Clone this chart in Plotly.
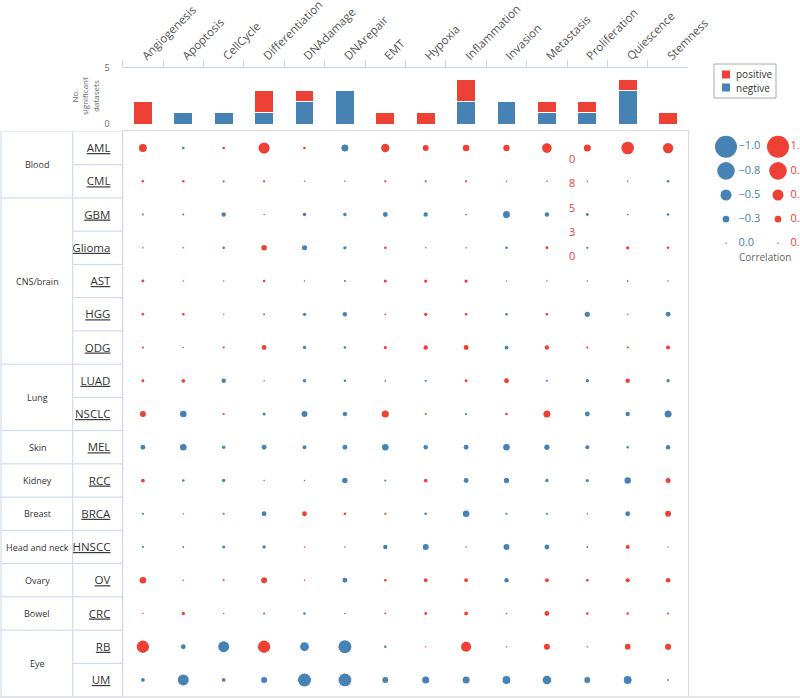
import plotly.graph_objects as go

RED = "#ED4136"
BLUE = "#4682B4"
GRID_LINE = "#c9d4ee"

pathways = ["Angiogenesis", "Apoptosis", "CellCycle", "Differentiation", "DNAdamage",
            "DNArepair", "EMT", "Hypoxia", "Inflammation", "Invasion", "Metastasis",
            "Proliferation", "Quiescence", "Stemness"]
neg_counts = [0, 1, 1, 1, 2, 3, 0, 0, 2, 2, 1, 1, 3, 0]
pos_counts = [2, 0, 0, 2, 1, 0, 1, 1, 2, 0, 1, 1, 1, 1]

tissues = ["Blood", "CNS/brain", "Lung", "Skin", "Kidney", "Breast",
           "Head and neck", "Ovary", "Bowel", "Eye"]
tissue_sizes = [2, 5, 2, 1, 1, 1, 1, 1, 1, 2]
cancers = ["AML", "CML", "GBM", "Glioma", "AST", "HGG", "ODG", "LUAD", "NSCLC",
           "MEL", "RCC", "BRCA", "HNSCC", "OV", "CRC", "RB", "UM"]

# correlation per cancer (rows) and pathway (columns)
corr = [
    [0.36, -0.12, 0.12, 0.51, 0.12, -0.32, 0.38, 0.27, 0.30, 0.29, 0.44, 0.32, 0.57, 0.47],
    [0.11, 0.11, -0.10, 0.10, -0.07, -0.07, 0.10, 0.10, 0.10, 0.07, 0.07, 0.07, 0.06, -0.12],
    [-0.09, -0.09, -0.20, -0.06, -0.16, -0.16, -0.22, -0.20, -0.08, -0.32, -0.20, -0.13, -0.08, -0.12],
    [0.06, 0.06, -0.12, 0.25, -0.23, -0.15, 0.12, -0.07, 0.06, -0.12, 0.13, -0.10, 0.15, 0.12],
    [0.13, 0.06, -0.06, 0.12, 0.05, -0.09, 0.14, 0.15, 0.15, -0.06, 0.07, -0.07, 0.08, -0.07],
    [0.12, 0.12, -0.06, -0.09, -0.15, -0.20, 0.08, 0.15, 0.12, -0.12, 0.12, -0.24, -0.05, -0.22],
    [0.10, -0.07, 0.10, 0.22, -0.15, -0.12, 0.14, 0.20, 0.22, -0.17, 0.20, 0.10, 0.10, 0.18],
    [0.13, 0.17, -0.20, -0.06, -0.16, -0.11, -0.08, -0.10, 0.13, 0.22, -0.09, -0.15, 0.20, -0.15],
    [0.27, -0.30, 0.10, -0.14, -0.27, -0.20, 0.32, 0.10, -0.10, 0.12, 0.32, -0.22, -0.20, -0.32],
    [-0.22, -0.30, -0.15, -0.22, -0.18, -0.22, -0.30, -0.20, -0.22, -0.30, -0.24, -0.18, -0.11, -0.20],
    [0.17, -0.12, -0.15, 0.06, -0.05, -0.25, -0.10, 0.17, -0.22, -0.24, -0.15, -0.14, -0.29, 0.23],
    [-0.10, 0.05, 0.10, -0.22, 0.22, 0.12, 0.10, -0.12, -0.30, -0.10, -0.10, 0.05, -0.22, 0.27],
    [-0.10, -0.08, -0.14, -0.15, 0.06, -0.07, -0.20, -0.27, 0.07, -0.27, -0.22, -0.09, 0.18, -0.06],
    [0.30, 0.06, 0.09, 0.27, 0.05, -0.22, 0.12, 0.17, 0.17, -0.20, 0.17, 0.12, 0.19, 0.21],
    [0.07, 0.15, -0.06, 0.09, -0.12, -0.07, 0.08, 0.13, 0.17, 0.06, 0.22, 0.12, 0.11, 0.10],
    [0.56, -0.22, -0.50, 0.56, -0.40, -0.59, -0.12, 0.05, 0.46, -0.06, 0.27, -0.06, 0.26, 0.28],
    [-0.17, -0.50, -0.17, -0.27, -0.59, -0.58, -0.27, -0.32, -0.32, -0.36, -0.39, -0.27, -0.36, -0.09],
]

legend_neg = [-1.0, -0.8, -0.5, -0.3, 0.0]
legend_pos = [1.0, 0.8, 0.5, 0.3, 0.0]


def dot_size(r):
    return max(22 * abs(r), 1.5)


def fmt(v):
    return f"{v:.1f}".replace("-", "\u2212")


X0, X1 = 122.7 / 800, 688.3 / 800
TBL_L, TBL_M = 1 / 800, 72.7 / 800
LEG_STEP = 24.15  # px between size-legend rows
LEG_UNIT = 52  # px between blue and red legend columns

fig = go.Figure()

# stacked bars on top
fig.add_trace(go.Bar(x=pathways, y=neg_counts, name="negtive", width=0.47,
                     marker=dict(color=BLUE, line=dict(color="white", width=1)),
                     xaxis="x2", yaxis="y2"))
fig.add_trace(go.Bar(x=pathways, y=pos_counts, name="positive", width=0.47,
                     marker=dict(color=RED, line=dict(color="white", width=1)),
                     xaxis="x2", yaxis="y2"))

# dot grid
xs, ys, sizes, colors = [], [], [], []
for ci, row in enumerate(corr):
    for pi, r in enumerate(row):
        xs.append(pathways[pi])
        ys.append(cancers[ci])
        sizes.append(dot_size(r))
        colors.append(RED if r > 0 else BLUE)
fig.add_trace(go.Scatter(x=xs, y=ys, mode="markers",
                         marker=dict(size=sizes, color=colors, opacity=1, line=dict(width=0)),
                         xaxis="x", yaxis="y"))

# size legend
fig.add_trace(go.Scatter(x=[0] * 5, y=list(range(5)), mode="markers",
                         marker=dict(size=[dot_size(v) for v in legend_neg], color=BLUE,
                                     opacity=1, line=dict(width=0)),
                         xaxis="x3", yaxis="y3", cliponaxis=False))
fig.add_trace(go.Scatter(x=[1] * 5, y=list(range(5)), mode="markers",
                         marker=dict(size=[dot_size(v) for v in legend_pos], color=RED,
                                     opacity=1, line=dict(width=0)),
                         xaxis="x3", yaxis="y3", cliponaxis=False))
fig.add_trace(go.Scatter(x=[0.24] * 5, y=list(range(5)), mode="text",
                         text=[fmt(v) for v in legend_neg], textposition="middle right",
                         textfont=dict(size=11, color=BLUE),
                         xaxis="x3", yaxis="y3", cliponaxis=False))
fig.add_trace(go.Scatter(x=[1.24] * 5, y=list(range(5)), mode="text",
                         text=[fmt(v) for v in legend_pos], textposition="middle right",
                         textfont=dict(size=11, color=RED),
                         xaxis="x3", yaxis="y3", cliponaxis=False))

shapes = []
annotations = []

# table lines on the left
for xv in [TBL_L, TBL_M, X0]:
    shapes.append(dict(type="line", xref="paper", yref="y", x0=xv, x1=xv, y0=-0.5, y1=16.5,
                       line=dict(color=GRID_LINE, width=1)))
for k in range(len(cancers) + 1):
    shapes.append(dict(type="line", xref="paper", yref="y", x0=TBL_M, x1=X0,
                       y0=k - 0.5, y1=k - 0.5, line=dict(color=GRID_LINE, width=1)))
shapes.append(dict(type="line", xref="paper", yref="y", x0=TBL_L, x1=TBL_M,
                   y0=-0.5, y1=-0.5, line=dict(color=GRID_LINE, width=1)))
start = 0
for name, n in zip(tissues, tissue_sizes):
    end = start + n
    shapes.append(dict(type="line", xref="paper", yref="y", x0=TBL_L, x1=TBL_M,
                       y0=end - 0.5, y1=end - 0.5, line=dict(color=GRID_LINE, width=1)))
    annotations.append(dict(text=name, xref="paper", yref="y", x=37 / 800,
                            y=(start + end - 1) / 2, showarrow=False,
                            xanchor="center", yanchor="middle",
                            font=dict(size=9, color="#333")))
    start = end

# bottom shadow
shapes.append(dict(type="rect", xref="paper", yref="paper", x0=0, x1=1, y0=0, y1=0.0025,
                   fillcolor="#e2e2e2", line=dict(width=0)))

# bar legend (drawn)
shapes.append(dict(type="rect", xref="paper", yref="paper", x0=714 / 800, x1=776 / 800,
                   y0=1 - 98 / 698, y1=1 - 64 / 698, line=dict(color="#aaaaaa", width=1)))
for label, col, yc in [("positive", RED, 74.5), ("negtive", BLUE, 87.5)]:
    shapes.append(dict(type="rect", xref="paper", yref="paper", x0=722 / 800, x1=730 / 800,
                       y0=1 - (yc + 4) / 698, y1=1 - (yc - 4) / 698,
                       fillcolor=col, line=dict(width=0)))
    annotations.append(dict(text=label, xref="paper", yref="paper", x=734 / 800,
                            y=1 - yc / 698, xanchor="left", yanchor="middle",
                            showarrow=False, font=dict(size=10, color="#333")))

# bar y-axis title
annotations.append(dict(text="No.<br>significant<br>datasets", xref="paper", yref="paper",
                        x=85 / 800, y=1 - 96 / 698, textangle=-90, showarrow=False,
                        xanchor="center", yanchor="middle",
                        font=dict(size=8, color="#666")))

# size legend title and stray label digits
annotations.append(dict(text="Correlation", xref="paper", yref="y3", x=765 / 800, y=4.2,
                        showarrow=False, xanchor="center", yanchor="top",
                        font=dict(size=10, color="#666")))
for i, v in enumerate(legend_pos):
    annotations.append(dict(text=fmt(v)[-1], xref="paper", yref="y3", x=572 / 800,
                            y=i + 0.5, showarrow=False, xanchor="center", yanchor="middle",
                            font=dict(size=11, color=RED)))

leg_top = 146.7 - 0.5 * LEG_STEP
leg_bot = 146.7 + 5 * LEG_STEP
leg_x_max = 1.4

fig.update_layout(
    width=800, height=698,
    margin=dict(l=0, r=0, t=0, b=0),
    paper_bgcolor="white", plot_bgcolor="white",
    showlegend=False, barmode="stack",
    font=dict(family="Open Sans", color="#333"),
    shapes=shapes, annotations=annotations,
    xaxis=dict(domain=[X0, X1], type="category", categoryorder="array",
               categoryarray=pathways, range=[-0.5, 13.5], showticklabels=False,
               showgrid=False, zeroline=False, showline=True, mirror=True,
               linecolor="#d9d9d9", anchor="y", automargin=False),
    yaxis=dict(domain=[0.002, 0.8117], type="category", categoryorder="array",
               categoryarray=cancers, range=[16.5, -0.5], tickmode="array",
               tickvals=cancers,
               ticktext=[f'<span style="text-decoration:underline">{c}</span>' for c in cancers],
               tickfont=dict(size=11.5, color="#333"), ticklabelstandoff=9,
               showgrid=False, zeroline=False, showline=True, mirror=True,
               linecolor="#d9d9d9", anchor="x", automargin=False),
    xaxis2=dict(domain=[X0, X1], type="category", categoryorder="array",
                categoryarray=pathways, range=[-0.5, 13.5], side="top", anchor="y2",
                tickson="boundaries", ticks="outside", ticklen=7, tickcolor="#ccd6eb",
                showline=True, linecolor="#ccd6eb", showgrid=False, tickangle=-45,
                tickfont=dict(size=11.5, color="#555"), automargin=False),
    yaxis2=dict(domain=[1 - 124 / 698, 1 - 68 / 698], range=[0, 5], tickvals=[0, 5],
                anchor="x2", showgrid=True, gridcolor="#e6e6e6", zeroline=False,
                showline=False, ticklabelstandoff=12, automargin=False,
                tickfont=dict(size=9, color="#666")),
    xaxis3=dict(domain=[726 / 800, (726 + leg_x_max * LEG_UNIT) / 800], range=[0, leg_x_max],
                anchor="y3", visible=False, automargin=False),
    yaxis3=dict(domain=[1 - leg_bot / 698, 1 - leg_top / 698], range=[5, -0.5], anchor="x3",
                visible=False, automargin=False),
)

fig.write_html("out.html", config={"displayModeBar": False},
               post_script="document.body.style.margin = '0';")
